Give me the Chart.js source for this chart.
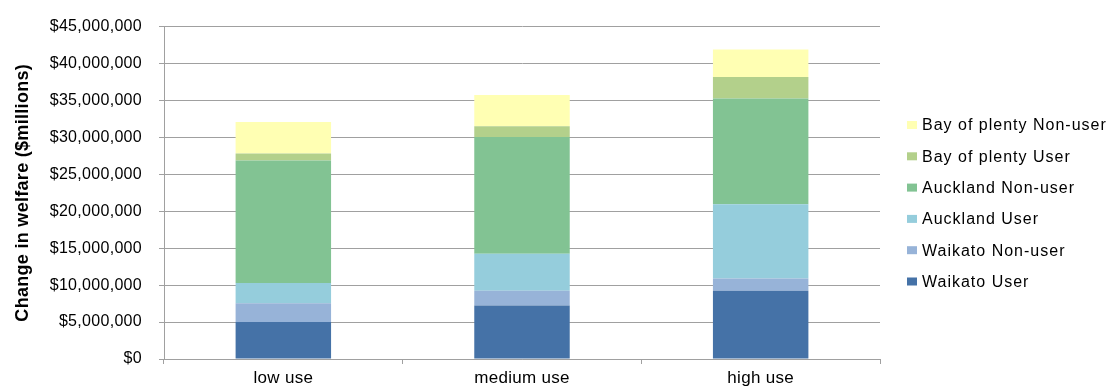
<!DOCTYPE html>
<html>
<head>
<meta charset="utf-8">
<script src="https://cdn.jsdelivr.net/npm/chart.js@4"></script>
<style>
  html, body { margin: 0; padding: 0; background: #fff; }
  #wrap { width: 1108px; height: 387px; position: relative; }
</style>
</head>
<body>
<div id="wrap"><canvas id="welfareChart" width="1108" height="387"></canvas></div>
<script>
// Data
const categories = ['low use', 'medium use', 'high use'];
const waikatoUser     = [5000000, 7230000, 9250000];
const waikatoNonUser  = [2550000, 2020000, 1660000];
const aucklandUser    = [2750000, 4990000, 10030000];
const aucklandNonUser = [16580000, 15800000, 14320000];
const bopUser         = [940000, 1480000, 2920000];
const bopNonUser      = [4260000, 4230000, 3720000];

const yMax = 45000000;
const yStep = 5000000;
const yTitle = 'Change in welfare ($millions)';

const FONT = "'Liberation Sans', Arial, sans-serif";
const gridColor = '#a0a0a0';

const series = [
    { label: 'Waikato User',          data: waikatoUser,     color: '#4572a7' },
    { label: 'Waikato Non-user',      data: waikatoNonUser,  color: '#97b3d8' },
    { label: 'Auckland User',         data: aucklandUser,    color: '#95cddc' },
    { label: 'Auckland Non-user',     data: aucklandNonUser, color: '#82c393' },
    { label: 'Bay of plenty User',    data: bopUser,         color: '#b3d08b' },
    { label: 'Bay of plenty Non-user',data: bopNonUser,      color: '#ffffb3' }
];

// small legend drawn on the right, top item = last dataset
const sideLegend = {
    id: 'sideLegend',
    afterDraw(chart) {
        const ctx = chart.ctx;
        const sets = chart.data.datasets;
        ctx.save();
        ctx.letterSpacing = '1px';
        ctx.font = '16px ' + FONT;
        ctx.textBaseline = 'middle';
        ctx.textAlign = 'left';
        for (let i = sets.length - 1, row = 0; i >= 0; i--, row++) {
            const y = 125 + row * 31.3;
            ctx.fillStyle = sets[i].backgroundColor;
            ctx.fillRect(907, y - 4, 10, 8);
            ctx.fillStyle = '#000';
            ctx.fillText(sets[i].label, 922, y + 1);
        }
        ctx.restore();
    }
};

// the reference text is set a little wider than plain Arial
const spacing = {
    id: 'spacing',
    beforeDraw(chart) { chart.ctx.letterSpacing = '0.3px'; }
};

const ctx = document.getElementById('welfareChart').getContext('2d');
new Chart(ctx, {
    type: 'bar',
    data: {
        labels: categories,
        datasets: series.map(s => ({
            label: s.label,
            data: s.data,
            backgroundColor: s.color,
            borderWidth: 0,
            categoryPercentage: 1,
            barPercentage: 0.4
        }))
    },
    options: {
        responsive: false,
        animation: false,
        layout: { padding: { top: 25, right: 228, bottom: 0, left: 12 } },
        plugins: {
            legend: { display: false },
            tooltip: { enabled: false }
        },
        scales: {
            x: {
                stacked: true,
                afterFit: s => { s.height = 28; },
                grid: {
                    offset: true,
                    drawOnChartArea: false,
                    drawTicks: true,
                    tickLength: 5,
                    color: gridColor
                },
                border: { color: gridColor },
                ticks: {
                    color: '#000',
                    padding: 4,
                    font: { family: FONT, size: 17 }
                }
            },
            y: {
                stacked: true,
                min: 0,
                max: yMax,
                afterFit: s => { s.width = 152; },
                grid: { color: gridColor, tickLength: 5 },
                border: { color: gridColor },
                ticks: {
                    stepSize: yStep,
                    color: '#000',
                    padding: 17,
                    font: { family: FONT, size: 16 },
                    callback: v => '$' + Number(v).toLocaleString('en-US')
                },
                title: {
                    display: true,
                    text: yTitle,
                    color: '#000',
                    padding: { top: 0, bottom: 0 },
                    font: { family: FONT, size: 18, weight: 'bold' }
                }
            }
        }
    },
    plugins: [spacing, sideLegend]
});
</script>
</body>
</html>
